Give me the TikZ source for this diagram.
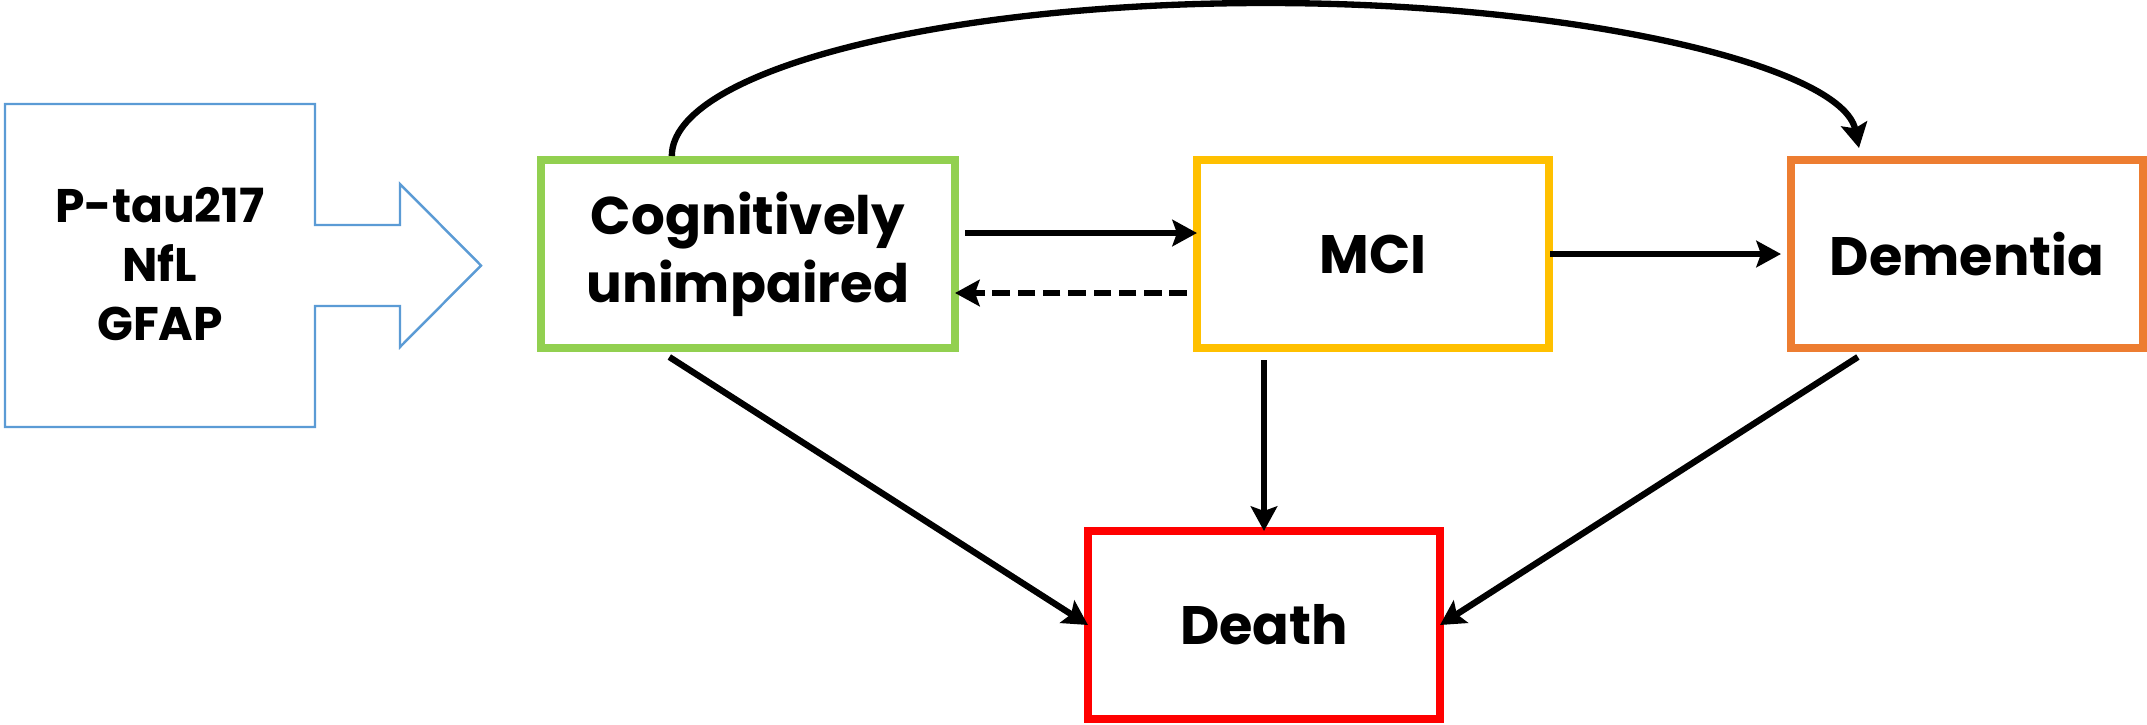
\documentclass[tikz,border=0pt]{standalone}
\usepackage{fontspec}
\setmainfont{Poppins}
\usepackage{tikz}
\usetikzlibrary{arrows.meta, positioning, calc}

\definecolor{cugreen}{HTML}{92D050}
\definecolor{mciyellow}{HTML}{FFC000}
\definecolor{demorange}{HTML}{ED7D31}
\definecolor{deathred}{HTML}{FF0000}
\definecolor{calloutblue}{HTML}{5B9BD5}

\begin{document}
\begin{tikzpicture}[
  node distance=2.42cm,
  box/.style={rectangle, draw, line width=2.3pt, outer sep=0pt, inner sep=0pt, minimum width=3.52cm, minimum height=1.88cm, align=center},
  arrow/.style={-{Stealth[length=7pt, width=7.5pt, inset=1.3pt]}, line width=1.8pt},
  callout/.style={draw=calloutblue, line width=0.7pt},
  every node/.style={font=\bfseries\fontsize{15.4}{18.5}\selectfont}
]
\useasboundingbox (0,0) rectangle (21.47,-7.24);

% Biomarker callout
\node[font=\bfseries\fontsize{13.4}{16.8}\selectfont, align=center] (markers) at (1.60,-2.64) {P-tau217\\NfL\\GFAP};
\draw[callout] (0.05,-1.04) -| (3.15,-2.25) -| (4.00,-1.84) -- (4.81,-2.655)
  -- (4.00,-3.47) |- (3.15,-3.06) |- (0.05,-4.27) -- cycle;

% States
\node[box, draw=cugreen, minimum width=4.14cm, font=\bfseries\fontsize{15.1}{19.3}\selectfont] (cu) at (7.48,-2.54) {Cognitively\\unimpaired};
\node[box, draw=mciyellow, right=of cu] (mci) {MCI};
\node[box, draw=demorange, right=of mci] (dem) {Dementia};
\node[box, draw=deathred, below=1.83cm of mci, xshift=-1.09cm] (death) {Death};

% Transitions between states
\draw[arrow] ([xshift=0.1cm, yshift=0.21cm]cu.east) -- ([yshift=0.21cm]mci.west);
\draw[arrow, dash pattern=on 5pt off 2.2pt] ([xshift=-0.1cm, yshift=-0.39cm]mci.west) -- ([yshift=-0.39cm]cu.east);
\draw[arrow] ([xshift=0.01cm]mci.east) -- ([xshift=-0.1cm]dem.west);
\draw[arrow] ([yshift=0.04cm]$(cu.north west)!0.316!(cu.north east)$) arc[start angle=180, end angle=3, x radius=5.94cm, y radius=1.53cm];

% Transitions to death
\draw[arrow] ([yshift=-0.09cm]$(cu.south west)!0.31!(cu.south east)$) -- (death.west);
\draw[arrow] ([yshift=-0.12cm]mci.south -| death.north) -- (death.north);
\draw[arrow] ([yshift=-0.09cm]$(dem.south west)!0.19!(dem.south east)$) -- (death.east);

\end{tikzpicture}
\end{document}
